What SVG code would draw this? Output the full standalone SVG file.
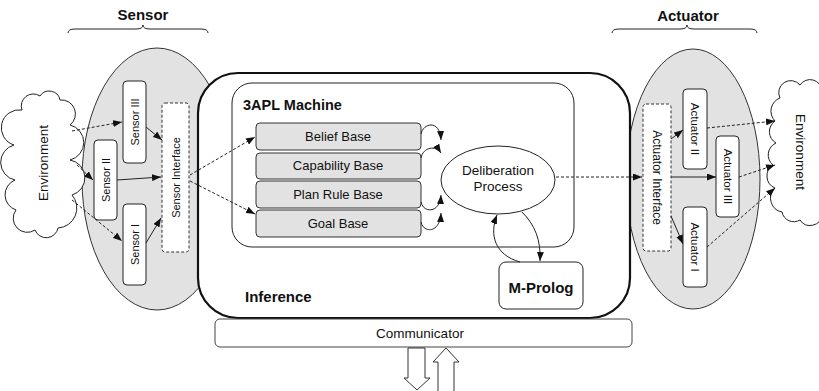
<svg xmlns="http://www.w3.org/2000/svg" width="819" height="391" viewBox="0 0 819 391">
<defs>
<marker id="ah" markerWidth="9" markerHeight="7" refX="9" refY="3.5" orient="auto" markerUnits="userSpaceOnUse"><path d="M0,0 L9,3.5 L0,7 z" fill="#111"/></marker>
<style>
text{font-family:"Liberation Sans",Arial,sans-serif;fill:#111}
.b{font-weight:bold;font-size:15px}
.m{font-size:13px;text-anchor:middle}
.s{font-size:11px;text-anchor:middle;dominant-baseline:central}
.gray{fill:#e2e2e2;stroke:#333;stroke-width:1}
.box{fill:#fff;stroke:#222;stroke-width:1}
.dash{fill:none;stroke:#222;stroke-width:1;stroke-dasharray:3,2}
.sol{fill:none;stroke:#222;stroke-width:1}
.ar{marker-end:url(#ah)}
</style>
</defs>
<g id="sensor-label"><text class="b" x="143" y="20" text-anchor="middle">Sensor</text><path class="sol" d="M68,33 Q68,29 75,29 L136,29 Q143,29 143,25 Q143,29 150,29 L201,29 Q208,29 208,33"/></g>
<g id="actuator-label"><text class="b" x="688" y="21" text-anchor="middle">Actuator</text><path class="sol" d="M612,33 Q612,29 619,29 L680,29 Q687,29 687,25 Q687,29 694,29 L750,29 Q757,29 757,33"/></g>
<g id="sensor-group"><ellipse class="gray" cx="157" cy="179" rx="75" ry="131"/></g>
<g id="actuator-group"><ellipse class="gray" cx="693" cy="179" rx="67" ry="130"/></g>
<g id="env-left">
<path class="box" d="M22,110 A12,12 0 0 1 40,96 A11,11 0 0 1 60,100 A14,14 0 0 1 70,125 A18,18 0 0 1 70,160 A18,18 0 0 1 72,195 A20,20 0 0 1 58,228 A12,12 0 0 1 35,230 A14,14 0 0 1 16,210 A16,16 0 0 1 15,180 A18,18 0 0 1 14,145 A18,18 0 0 1 22,110 Z"/>
<text class="s" style="font-size:13.5px" transform="translate(43,163) rotate(-90)">Environment</text>
</g>
<g id="env-right">
<path class="box" d="M780,98 A12,12 0 0 1 800,85 A12,12 0 0 1 822,91 L845,91 L845,215 L822,215 A12,12 0 0 1 800,220 A12,12 0 0 1 782,212 A14,14 0 0 1 775,188 A13,13 0 0 1 773,165 A13,13 0 0 1 776,143 A13,13 0 0 1 775,121 A14,14 0 0 1 780,98 Z"/>
<text class="s" style="font-size:13.5px" transform="translate(800,152) rotate(90)">Environment</text>
</g>
<g id="sensor-3"><rect class="box" x="123" y="81" width="23" height="82" rx="4"/><text class="s" transform="translate(134.5,122) rotate(-90)">Sensor III</text></g>
<g id="sensor-2"><rect class="box" x="94" y="140" width="23" height="80" rx="4"/><text class="s" transform="translate(105.5,180) rotate(-90)">Sensor II</text></g>
<g id="sensor-1"><rect class="box" x="123" y="204" width="23" height="81" rx="4"/><text class="s" transform="translate(134.5,244.5) rotate(-90)">Sensor I</text></g>
<g id="sensor-interface"><rect x="162" y="103" width="27" height="149" rx="3" fill="#fff" stroke="#333" stroke-width="1" stroke-dasharray="3,2"/><text class="s" transform="translate(175.5,177.5) rotate(-90)">Sensor Interface</text></g>
<g id="inference"><rect x="198" y="73" width="432" height="245" rx="40" fill="#fff" stroke="#111" stroke-width="2.2"/><text class="b" x="245" y="302">Inference</text></g>
<g id="machine"><rect class="box" x="232" y="83" width="342" height="164" rx="20"/><text class="b" style="font-size:14.5px" x="243" y="110">3APL Machine</text></g>
<g id="belief-base"><rect class="gray" x="256" y="123" width="165" height="27" rx="4"/><text class="m" x="338" y="141">Belief Base</text></g>
<g id="capability-base"><rect class="gray" x="256" y="153" width="165" height="26" rx="4"/><text class="m" x="338" y="170">Capability Base</text></g>
<g id="plan-rule-base"><rect class="gray" x="256" y="181" width="165" height="27" rx="4"/><text class="m" x="338" y="199">Plan Rule Base</text></g>
<g id="goal-base"><rect class="gray" x="256" y="210" width="165" height="27" rx="4"/><text class="m" x="338" y="228">Goal Base</text></g>
<g id="deliberation"><ellipse class="box" cx="498" cy="180" rx="57" ry="34"/><text class="m" style="font-size:13.5px" x="498" y="175">Deliberation</text><text class="m" style="font-size:13.5px" x="498" y="191">Process</text></g>
<g id="m-prolog"><rect class="box" x="499" y="262" width="84" height="47" rx="7"/><text class="b" x="541" y="293" text-anchor="middle">M-Prolog</text></g>
<g id="actuator-interface"><rect x="643" y="104" width="28" height="147" rx="3" fill="#fff" stroke="#333" stroke-width="1" stroke-dasharray="3,2"/><text class="s" style="font-size:12px" transform="translate(657,177.5) rotate(90)">Actuator Interface</text></g>
<g id="actuator-2"><rect class="box" x="683" y="89" width="24" height="80" rx="4"/><text class="s" style="font-size:11.5px" transform="translate(695,129) rotate(90)">Actuator II</text></g>
<g id="actuator-3"><rect class="box" x="716" y="136" width="23" height="81" rx="4"/><text class="s" style="font-size:11.5px" transform="translate(727.5,176.5) rotate(90)">Actuator III</text></g>
<g id="actuator-1"><rect class="box" x="683" y="207" width="24" height="80" rx="4"/><text class="s" style="font-size:11.5px" transform="translate(695,247) rotate(90)">Actuator I</text></g>
<g id="communicator"><rect x="215" y="319" width="417" height="28" rx="5" fill="#fff" stroke="#444" stroke-width="1"/><text class="m" style="font-size:13.5px" x="420" y="338">Communicator</text></g>
<g id="comm-arrows">
<path d="M408,348 L425,348 L425,378 L430,378 L417,390 L404,378 L408,378 Z" fill="#fff" stroke="#333" stroke-width="1"/>
<path d="M446,348 L459,362 L454,362 L454,395 L438,395 L438,362 L433,362 Z" fill="#fff" stroke="#333" stroke-width="1"/>
</g>
<g id="connectors">
<path class="dash ar" d="M72,131 L122,122"/>
<path class="dash ar" d="M77,165 L93,180"/>
<path class="dash ar" d="M72,200 L122,241"/>
<path class="sol ar" d="M146,127 L162,140"/>
<path class="sol ar" d="M117,180 L161,177"/>
<path class="sol ar" d="M146,243 L161,218"/>
<path class="dash ar" d="M190,175 L255,137"/>
<path class="dash ar" d="M190,181 L255,214"/>
<path class="sol ar" d="M421,134 C423,123 440,119 441,140"/>
<path class="sol ar" d="M421,158 C423,147 436,145 441,153"/>
<path class="sol ar" d="M421,202 C423,213 440,214 441,195"/>
<path class="sol ar" d="M421,222 C423,233 440,234 441,213"/>
<path class="sol ar" d="M520,262 C495,255 489,235 497,215"/>
<path class="sol ar" d="M522,212 C535,225 541,240 540,261"/>
<path class="dash ar" d="M556,177 L642,177"/>
<path class="sol ar" d="M671,139 L683,130"/>
<path class="sol ar" d="M671,177 L716,177"/>
<path class="sol ar" d="M671,216 L683,244"/>
<path class="dash ar" d="M707,128 L775,121"/>
<path class="dash ar" d="M739,177 L775,165"/>
<path class="dash ar" d="M707,247 L775,188"/>
</g>
</svg>
